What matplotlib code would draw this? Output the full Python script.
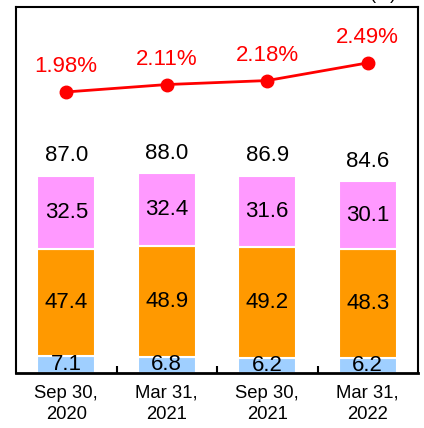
import numpy as np
import matplotlib.pyplot as plt

plt.rcParams["font.family"] = ["Liberation Sans", "DejaVu Sans"]

# Data
categories = ["Sep 30,\n2020", "Mar 31,\n2021", "Sep 30,\n2021", "Mar 31,\n2022"]
blue_vals = [7.1, 6.8, 6.2, 6.2]
orange_vals = [47.4, 48.9, 49.2, 48.3]
pink_vals = [32.5, 32.4, 31.6, 30.1]
totals = [87.0, 88.0, 86.9, 84.6]
ratio_pct = [1.98, 2.11, 2.18, 2.49]

c_blue = "#9FCFFF"
c_orange = "#FF9900"
c_pink = "#FF99FF"

fig = plt.figure(figsize=(4.24, 4.28), dpi=100)
ax = fig.add_axes([16 / 424, 1 - 372.5 / 428, 402 / 424, 365.5 / 428])

x = np.arange(len(categories))
w = 0.58
bottom = np.zeros(len(x))
for vals, col in [(blue_vals, c_blue), (orange_vals, c_orange), (pink_vals, c_pink)]:
    vals = np.array(vals)
    ax.bar(x, vals, w, bottom=bottom, color=col, edgecolor="white", linewidth=1.5, zorder=2)
    for xi, b, v in zip(x, bottom, vals):
        y = b + v / 2
        if col == c_blue:
            y = b + v / 2
        ax.text(xi, y, f"{v:.1f}", ha="center", va="center", fontsize=16, color="black", zorder=3)
    bottom = bottom + vals

for xi, t in zip(x, totals):
    ax.text(xi, t + 4.2, f"{t:.1f}", ha="center", va="bottom", fontsize=16, color="black")

ax.set_xlim(-0.5, 3.5)
ax.set_ylim(0, 161.5)
ax.set_yticks([])
ax.set_xticks(x)
ax.set_xticklabels(categories, fontsize=13.3, linespacing=1.3)
ax.tick_params(axis="x", which="major", length=0, pad=9)
ax.set_xticks([0.5, 1.5, 2.5], minor=True)
ax.tick_params(axis="x", which="minor", direction="in", length=5, width=1.5, color="black")
for s in ax.spines.values():
    s.set_linewidth(1.5)
ax.spines["bottom"].set_linewidth(2)

# Ratio line on a twin axis
ax2 = ax.twinx()
ax2.plot(x, ratio_pct, color="#FF0000", linewidth=2, marker="o", markersize=9, zorder=4)
for xi, r in zip(x, ratio_pct):
    ax2.text(xi, r + 0.26, f"{r:.2f}%", ha="center", va="bottom", fontsize=16, color="#FF0000")
ax2.set_ylim(-2.94, 3.47)
ax2.set_yticks([])
for s in ax2.spines.values():
    s.set_visible(False)

fig.text(0.905, 0.993, "(tn)", ha="center", va="bottom", fontsize=13)

fig.savefig("out.png", dpi=100)
